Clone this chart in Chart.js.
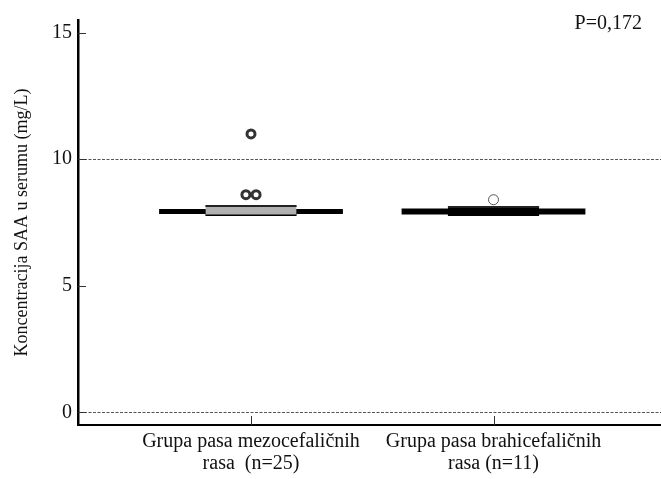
<!DOCTYPE html>
<html>
<head>
<meta charset="utf-8">
<script src="https://cdn.jsdelivr.net/npm/chart.js@4"></script>
<style>
  html, body { margin: 0; padding: 0; background: #fff; }
  #wrap { width: 661px; height: 479px; }
</style>
</head>
<body>
<div id="wrap"><canvas id="boxChart" width="661" height="479"></canvas></div>
<script>
// podaci ocitani sa slike
const groups = [['Grupa pasa mezocefaličnih', 'rasa  (n=25)'], ['Grupa pasa brahicefaličnih', 'rasa (n=11)']];
const groupX = [1, 2];
const q1 = [7.82, 7.82];
const q3 = [8.15, 8.11];
const median = [8.0, 8.0];
const whisker = [7.93, 7.93];
const outliers1 = [{x: 1, y: 11.0}, {x: 0.979, y: 8.6}, {x: 1.021, y: 8.6}];
const outliers2 = [{x: 2, y: 8.4}];
const yTicks = [0, 5, 10, 15];
const pText = 'P=0,172';

const capHalf = 0.379, boxHalf = 0.188;
const serif = "'Liberation Serif', 'Times New Roman', serif";

function hline(gx, y, half) {
    return [{x: gx - half, y: y}, {x: gx + half, y: y}];
}

const datasets = [];
// kutije: gornja ivica puni do donje
const boxFill = ['#b0b0b0', '#000'];
groupX.forEach(function (gx, i) {
    datasets.push({
        data: hline(gx, q3[i], boxHalf),
        borderColor: '#222', borderWidth: 2, fill: '+1', backgroundColor: boxFill[i]
    });
    datasets.push({
        data: hline(gx, q1[i], boxHalf),
        borderColor: '#000', borderWidth: 3, fill: false
    });
});
// brkovi
groupX.forEach(function (gx, i) {
    datasets.push({
        data: hline(gx, whisker[i], capHalf),
        borderColor: '#000', borderWidth: i === 0 ? 5 : 6, fill: false
    });
    if (i === 1) {
        datasets.push({
            data: hline(gx, whisker[i], capHalf - 0.006),
            borderColor: '#8a8a8a', borderWidth: 2, fill: false
        });
    }
});
// medijana
groupX.forEach(function (gx, i) {
    datasets.push({
        data: [{x: gx, y: whisker[i]}, {x: gx, y: q3[i]}],
        borderColor: '#222', borderWidth: 1.5, fill: false
    });
});
datasets.forEach(function (d) { d.showLine = true; d.pointRadius = 0; });
// izdvojene vrijednosti
datasets.push({
    data: outliers1, showLine: false, pointRadius: 4,
    pointBackgroundColor: '#fff', pointBorderColor: '#333', pointBorderWidth: 3
});
datasets.push({
    data: outliers2, showLine: false, pointRadius: 5,
    pointBackgroundColor: '#fff', pointBorderColor: '#555', pointBorderWidth: 1
});

const extras = {
    id: 'extras',
    afterDraw(chart) {
        const c = chart.ctx, a = chart.chartArea;
        const ys = chart.scales.y, xs = chart.scales.x;
        c.save();
        c.strokeStyle = '#333';
        c.lineWidth = 1;
        yTicks.forEach(function (v) {
            const py = Math.round(ys.getPixelForValue(v)) + 0.5;
            c.beginPath(); c.moveTo(a.left, py); c.lineTo(a.left + 8, py); c.stroke();
        });
        groupX.forEach(function (v) {
            const px = Math.round(xs.getPixelForValue(v)) + 0.5;
            c.beginPath(); c.moveTo(px, a.bottom); c.lineTo(px, a.bottom - 9); c.stroke();
        });
        c.fillStyle = '#111';
        c.font = '20px ' + serif;
        c.textAlign = 'right';
        c.textBaseline = 'middle';
        c.fillText(pText, a.right - 19, a.top + 4);
        c.restore();
    }
};

const ctx = document.getElementById('boxChart').getContext('2d');
const boxChart = new Chart(ctx, {
    type: 'scatter',
    data: { datasets: datasets },
    plugins: [extras],
    options: {
        responsive: false,
        animation: false,
        layout: { autoPadding: false, padding: { top: 20, right: 0, left: 0, bottom: 0 } },
        plugins: { legend: { display: false }, tooltip: { enabled: false } },
        scales: {
            x: {
                type: 'linear',
                min: 0.2866,
                max: 2.6907,
                afterBuildTicks: function (scale) {
                    scale.ticks = groupX.map(function (v) { return {value: v}; });
                },
                afterFit: function (scale) { scale.height = 54; },
                grid: { display: false, drawTicks: false },
                border: { display: true, color: '#000', width: 2 },
                ticks: {
                    padding: 6,
                    color: '#111',
                    maxRotation: 0,
                    autoSkip: false,
                    font: { family: serif, size: 20, lineHeight: 1.1 },
                    callback: function (v) { return groups[groupX.indexOf(v)]; }
                }
            },
            y: {
                min: -0.5,
                max: 15.5,
                afterBuildTicks: function (scale) {
                    scale.ticks = yTicks.map(function (v) { return {value: v}; });
                },
                afterFit: function (scale) { scale.width = 78; },
                grid: {
                    drawTicks: false,
                    color: function (c) {
                        const v = c.tick ? c.tick.value : null;
                        return (v === 0 || v === 10) ? '#555' : 'rgba(0,0,0,0)';
                    },
                    lineWidth: 1
                },
                border: { display: true, color: '#000', width: 2.5, dash: [3, 1.5] },
                ticks: {
                    padding: 6,
                    color: '#111',
                    font: { family: serif, size: 20 }
                },
                title: {
                    display: true,
                    text: 'Koncentracija SAA u serumu (mg/L)',
                    color: '#111',
                    font: { family: serif, size: 18 },
                    padding: { top: 11, bottom: 0 }
                }
            }
        }
    }
});
</script>
</body>
</html>
